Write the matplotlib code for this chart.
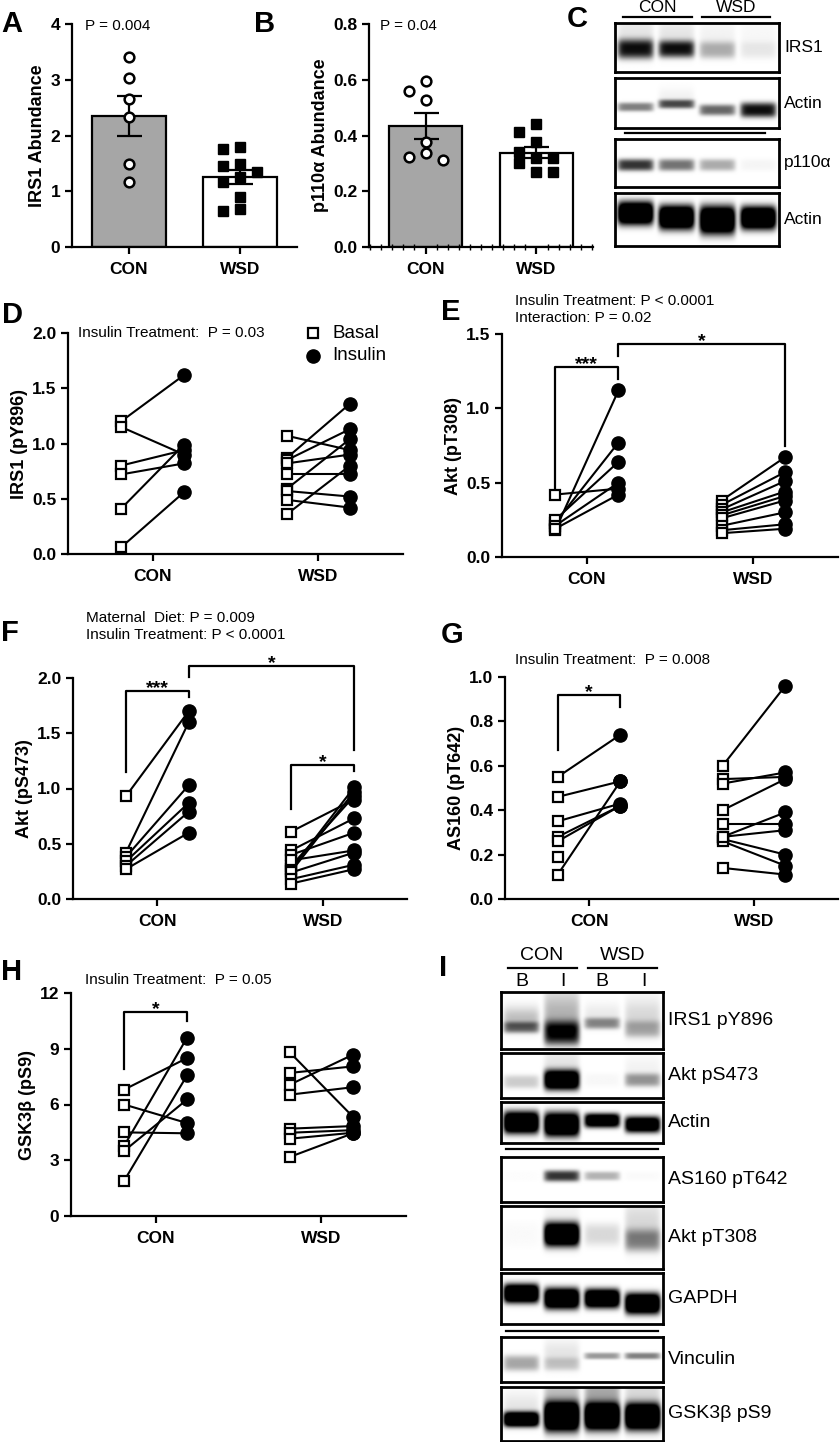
import numpy as np
import matplotlib
matplotlib.use("Agg")
from matplotlib import pyplot as plt
from matplotlib.lines import Line2D
from matplotlib.ticker import MultipleLocator

plt.rcParams['font.family'] = ['Liberation Sans', 'DejaVu Sans']

groups = ['CON', 'WSD']

# A: IRS1 abundance
irs1_con = [3.40, 3.04, 2.65, 2.34, 1.49, 1.17]
irs1_wsd = [1.80, 1.76, 1.49, 1.46, 1.34, 1.26, 1.17, 0.89, 0.68, 0.65]

# B: p110a abundance
p110_con = [0.597, 0.561, 0.527, 0.376, 0.338, 0.322, 0.312]
p110_wsd = [0.440, 0.411, 0.376, 0.342, 0.318, 0.318, 0.300, 0.268, 0.268]

# D: IRS1 (pY896)
d_con_basal = [1.20, 1.15, 0.80, 0.72, 0.41, 0.06]
d_con_insulin = [1.62, 0.90, 0.94, 0.82, 0.99, 0.56]
d_wsd_basal = [1.07, 0.87, 0.85, 0.82, 0.72, 0.59, 0.57, 0.49, 0.36]
d_wsd_insulin = [0.94, 1.36, 1.13, 0.90, 0.72, 1.04, 0.52, 0.42, 0.80]

# E: Akt (pT308)
e_con_basal = [0.42, 0.18, 0.23, 0.25, 0.21, 0.19]
e_con_insulin = [0.46, 1.12, 0.77, 0.64, 0.50, 0.42]
e_wsd_basal = [0.38, 0.35, 0.32, 0.30, 0.28, 0.26, 0.21, 0.18, 0.16]
e_wsd_insulin = [0.67, 0.57, 0.51, 0.44, 0.41, 0.38, 0.30, 0.22, 0.19]

# F: Akt (pS473)
f_con_basal = [0.93, 0.42, 0.38, 0.34, 0.30, 0.27]
f_con_insulin = [1.70, 1.60, 1.03, 0.87, 0.79, 0.60]
f_wsd_basal = [0.61, 0.44, 0.27, 0.25, 0.30, 0.40, 0.35, 0.24, 0.18, 0.14]
f_wsd_insulin = [0.90, 0.73, 1.01, 0.97, 0.93, 0.60, 0.44, 0.42, 0.31, 0.27]

# G: AS160 (pT642)
g_con_basal = [0.55, 0.46, 0.35, 0.28, 0.26, 0.19, 0.11]
g_con_insulin = [0.74, 0.53, 0.43, 0.42, 0.42, np.nan, 0.53]
g_wsd_basal = [0.60, 0.54, 0.52, 0.40, 0.34, 0.28, 0.27, 0.26, 0.14, 0.28]
g_wsd_insulin = [0.96, 0.55, 0.57, 0.54, 0.34, 0.31, 0.20, 0.15, 0.11, 0.39]

# H: GSK3b (pS9)
h_con_basal = [6.8, 6.0, 4.5, 3.77, 3.5, 1.89]
h_con_insulin = [8.5, 5.0, 4.45, 9.6, 6.27, 7.57]
h_wsd_basal = [8.8, 7.7, 7.07, 6.53, 4.70, 4.48, 4.16, 3.18]
h_wsd_insulin = [5.34, 8.05, 8.68, 6.93, 4.84, 4.62, 4.48, 4.45]

# C: blot rows (4 lanes: CON, CON, WSD, WSD)
c_rows = ['IRS1', 'Actin', 'p110α', 'Actin']
c_intensity = [[0.90, 0.90, 0.30, 0.08], [0.50, 0.70, 0.60, 0.95],
               [0.80, 0.55, 0.33, 0.04], [1.6, 1.6, 1.6, 1.6]]
c_center = [[0.53, 0.53, 0.55, 0.55], [0.58, 0.52, 0.64, 0.64],
            [0.54, 0.54, 0.54, 0.54], [0.38, 0.46, 0.51, 0.47]]
c_width = [[0.40, 0.35, 0.35, 0.35], [0.18, 0.18, 0.22, 0.30],
           [0.25, 0.25, 0.25, 0.25], [0.45, 0.47, 0.55, 0.45]]
c_smear = [[0.1, 0.1, 0.05, 0.03], [0, 0.05, 0, 0], [0, 0, 0, 0], [0, 0, 0, 0]]

# I: blot rows (lanes: CON B, CON I, WSD B, WSD I)
i_rows = ['IRS1 pY896', 'Akt pS473', 'Actin', 'AS160 pT642', 'Akt pT308',
          'GAPDH', 'Vinculin', 'GSK3β pS9']
i_intensity = [[0.55, 0.90, 0.45, 0.30], [0.20, 1.5, 0.03, 0.40], [1.6, 1.6, 1.4, 1.4],
               [0.01, 0.80, 0.30, 0.02], [0.02, 1.6, 0.15, 0.45], [1.6, 1.6, 1.6, 1.6],
               [0.35, 0.20, 0.40, 0.50], [1.6, 1.7, 1.7, 1.7]]
i_center = [[0.62, 0.72, 0.55, 0.65], [0.64, 0.60, 0.60, 0.60], [0.50, 0.55, 0.45, 0.55],
            [0.42, 0.42, 0.42, 0.42], [0.46, 0.46, 0.46, 0.55], [0.40, 0.50, 0.50, 0.60],
            [0.58, 0.60, 0.42, 0.42], [0.60, 0.55, 0.55, 0.55]]
i_width = [[0.20, 0.42, 0.20, 0.30], [0.30, 0.45, 0.30, 0.30], [0.55, 0.60, 0.35, 0.40],
           [0.25, 0.25, 0.20, 0.20], [0.40, 0.38, 0.35, 0.35], [0.38, 0.42, 0.38, 0.42],
           [0.35, 0.30, 0.15, 0.15], [0.28, 0.55, 0.50, 0.50]]
i_smear = [[0.25, 0.30, 0.08, 0.15], [0, 0.1, 0, 0.05], [0, 0, 0, 0], [0, 0, 0, 0],
           [0, 0.05, 0, 0.15], [0, 0, 0, 0], [0, 0.1, 0, 0], [0.1, 0.25, 0.35, 0.15]]

W, H = 840, 1442
fig = plt.figure(figsize=(W / 100, H / 100), dpi=100)


def px_axes(l, t, r, b):
    return fig.add_axes([l / W, 1 - b / H, (r - l) / W, (b - t) / H])


def ftext(x, y, s, **kw):
    kw.setdefault('va', 'center')
    kw.setdefault('ha', 'left')
    fig.text(x / W, 1 - y / H, s, **kw)


def fline(x1, x2, y, lw=1.6):
    fig.add_artist(Line2D([x1 / W, x2 / W], [1 - y / H, 1 - y / H],
                          transform=fig.transFigure, color='black', lw=lw))


def style(ax, ylim, yticks, ylabel, fmt):
    ax.spines[['top', 'right']].set_visible(False)
    for s in ['left', 'bottom']:
        ax.spines[s].set_linewidth(1.6)
    ax.set_xlim(-0.51, 1.51)
    ax.set_ylim(*ylim)
    ax.set_xticks([0, 1])
    ax.set_xticklabels(groups, fontweight='bold', fontsize=12.5)
    ax.set_yticks(yticks)
    ax.set_yticklabels([fmt.format(t) for t in yticks], fontweight='bold', fontsize=12.5)
    ax.tick_params(axis='both', width=1.6, length=5)
    ax.tick_params(axis='x', pad=6)
    ax.set_ylabel(ylabel, fontweight='bold', fontsize=13, labelpad=3)


def swarm(vals, ppu_y, ppu_x, size_px=10.5, step_px=17):
    placed = []
    offs = []
    for v in vals:
        for k in [0, -1, 1, -2, 2]:
            x = k * step_px
            if all(abs(x - px) >= size_px or abs(v * ppu_y - py) >= size_px for px, py in placed):
                break
        placed.append((x, v * ppu_y))
        offs.append(x / ppu_x)
    return np.array(offs)


def bar_panel(ax, con, wsd, ppu_y):
    means = [np.mean(con), np.mean(wsd)]
    sems = [np.std(con, ddof=1) / np.sqrt(len(con)), np.std(wsd, ddof=1) / np.sqrt(len(wsd))]
    ax.bar([0, 1], means, width=0.66, color=['#a6a6a6', 'white'], edgecolor='black', lw=1.6, zorder=1)
    ax.errorbar([0, 1], means, yerr=sems, fmt='none', ecolor='black', elinewidth=1.6,
                capsize=9, capthick=1.6, zorder=2)
    ax.plot(swarm(con, ppu_y, 111), con, 'o', mfc='white', mec='black', mew=1.8, ms=7, zorder=3)
    ax.plot(1 + swarm(wsd, ppu_y, 111), wsd, 's', color='black', ms=7.5, zorder=3)


def paired(ax, con_b, con_i, wsd_b, wsd_i, off=0.19):
    for g, (b, i) in enumerate([(con_b, con_i), (wsd_b, wsd_i)]):
        for bv, iv in zip(b, i):
            ax.plot([g - off, g + off], [bv, iv], color='black', lw=1.5, zorder=2)
        ax.plot(np.full(len(b), g - off), b, 's', mfc='white', mec='black', mew=1.6, ms=7,
                zorder=3, clip_on=False)
        ax.plot(np.full(len(i), g + off), i, 'o', color='black', ms=9.5, zorder=3, clip_on=False)


def bracket(ax, x1, y1, x2, y2, ytop, s):
    ax.plot([x1, x1, x2, x2], [y1, ytop, ytop, y2], color='black', lw=1.6, clip_on=False)
    ax.annotate(s, ((x1 + x2) / 2, ytop), xytext=(0, -1.5), textcoords='offset points',
                ha='center', va='baseline', fontsize=14, fontweight='bold', annotation_clip=False)


def blot(ax, intens, centers, widths, smear):
    ny, nx = 120, 400
    x = np.linspace(0, 4, nx)[None, :]
    y = np.linspace(0, 1, ny)[:, None]
    dark = np.zeros((ny, nx))
    for j in range(4):
        hx = np.exp(-((x - (j + 0.5)) / 0.44) ** 8)
        band = intens[j] * np.exp(-np.abs((y - centers[j]) / (widths[j] / 2)) ** 3)
        band = band + smear[j] * np.exp(-((y - (centers[j] - widths[j] * 0.8)) / widths[j]) ** 2)
        dark += band * hx
    img = 1 - np.clip(dark, 0, 1)
    ax.imshow(img, cmap='gray', vmin=0, vmax=1, extent=(0, 4, 1, 0), aspect='auto',
              interpolation='bilinear')
    ax.set_xlim(0, 4)
    ax.set_ylim(1, 0)
    ax.set_xticks([])
    ax.set_yticks([])
    for s in ax.spines.values():
        s.set_linewidth(2)


# ---- A ----
ax = px_axes(72, 24, 297, 247)
bar_panel(ax, irs1_con, irs1_wsd, 223 / 4)
style(ax, (0, 4), [0, 1, 2, 3, 4], 'IRS1 Abundance', '{:g}')
ftext(85, 26, 'P = 0.004', fontsize=11)

# ---- B ----
ax = px_axes(369, 24, 593, 247)
bar_panel(ax, p110_con, p110_wsd, 223 / 0.8)
style(ax, (0, 0.8), [0, 0.2, 0.4, 0.6, 0.8], 'p110α Abundance', '{:.1f}')
ax.xaxis.set_minor_locator(MultipleLocator(0.1))
ax.tick_params(axis='x', which='minor', length=4, width=1, direction='inout')
ftext(380, 26, 'P = 0.04', fontsize=11)

# ---- C ----
c_boxes = [(23, 72), (78, 128), (139, 187), (193, 246)]
for k, (t, b) in enumerate(c_boxes):
    ax = px_axes(615, t, 779, b)
    blot(ax, c_intensity[k], c_center[k], c_width[k], c_smear[k])
    ftext(784, (t + b) / 2, c_rows[k], fontsize=12.5)
fline(625, 765, 133)
fline(623, 692, 17)
fline(702, 770, 17)
ftext(657, 8, 'CON', fontsize=12.5, ha='center')
ftext(736, 8, 'WSD', fontsize=12.5, ha='center')

# ---- D ----
ax = px_axes(68, 333, 403, 554)
paired(ax, d_con_basal, d_con_insulin, d_wsd_basal, d_wsd_insulin)
style(ax, (0, 2.0), [0, 0.5, 1.0, 1.5, 2.0], 'IRS1 (pY896)', '{:.1f}')
ftext(78, 333, 'Insulin Treatment:  P = 0.03', fontsize=11)
fig.add_artist(Line2D([313 / W], [1 - 333 / H], transform=fig.transFigure, marker='s',
                      mfc='white', mec='black', mew=1.6, ms=7, ls='none'))
fig.add_artist(Line2D([313 / W], [1 - 356 / H], transform=fig.transFigure, marker='o',
                      color='black', ms=9.5, ls='none'))
ftext(332, 333, 'Basal', fontsize=13.5)
ftext(332, 356, 'Insulin', fontsize=13.5)

# ---- E ----
ax = px_axes(502, 334, 838, 557)
paired(ax, e_con_basal, e_con_insulin, e_wsd_basal, e_wsd_insulin)
style(ax, (0, 1.5), [0, 0.5, 1.0, 1.5], 'Akt (pT308)', '{:.1f}')
bracket(ax, -0.19, 0.45, 0.19, 1.20, 1.28, '***')
bracket(ax, 0.19, 1.35, 1.19, 0.75, 1.43, '*')
ftext(515, 301, 'Insulin Treatment: P < 0.0001', fontsize=11)
ftext(515, 318, 'Interaction: P = 0.02', fontsize=11)

# ---- F ----
ax = px_axes(73, 678, 407, 899)
paired(ax, f_con_basal, f_con_insulin, f_wsd_basal, f_wsd_insulin)
style(ax, (0, 2.0), [0, 0.5, 1.0, 1.5, 2.0], 'Akt (pS473)', '{:.1f}')
bracket(ax, -0.19, 1.15, 0.19, 1.83, 1.88, '***')
bracket(ax, 0.19, 2.01, 1.19, 1.35, 2.11, '*')
bracket(ax, 0.81, 0.81, 1.19, 1.16, 1.21, '*')
ftext(86, 618, 'Maternal  Diet: P = 0.009', fontsize=11)
ftext(86, 635, 'Insulin Treatment: P < 0.0001', fontsize=11)

# ---- G ----
ax = px_axes(505, 677, 838, 899)
paired(ax, g_con_basal, g_con_insulin, g_wsd_basal, g_wsd_insulin)
style(ax, (0, 1.0), [0, 0.2, 0.4, 0.6, 0.8, 1.0], 'AS160 (pT642)', '{:.1f}')
bracket(ax, -0.19, 0.67, 0.19, 0.865, 0.92, '*')
ftext(515, 660, 'Insulin Treatment:  P = 0.008', fontsize=11)

# ---- H ----
ax = px_axes(71, 993, 406, 1216)
paired(ax, h_con_basal, h_con_insulin, h_wsd_basal, h_wsd_insulin)
style(ax, (0, 12), [0, 3, 6, 9, 12], 'GSK3β (pS9)', '{:g}')
bracket(ax, -0.19, 7.9, 0.19, 10.5, 11.0, '*')
ftext(85, 980, 'Insulin Treatment:  P = 0.05', fontsize=11)

# ---- I ----
i_boxes = [(992, 1049), (1053, 1098), (1102, 1143), (1157, 1202), (1206, 1269),
           (1273, 1324), (1337, 1382), (1387, 1441)]
for k, (t, b) in enumerate(i_boxes):
    ax = px_axes(501, t, 663, b)
    blot(ax, i_intensity[k], i_center[k], i_width[k], i_smear[k])
    ftext(668, (t + b) / 2, i_rows[k], fontsize=14)
fline(506, 658, 1149)
fline(506, 658, 1331)
fline(508, 577, 968)
fline(588, 657, 968)
ftext(542, 956, 'CON', fontsize=14, ha='center')
ftext(623, 956, 'WSD', fontsize=14, ha='center')
for xx, s in zip([522, 563, 602, 644], ['B', 'I', 'B', 'I']):
    ftext(xx, 981, s, fontsize=14, ha='center')

# panel letters
for xx, yy, s in [(12, 24, 'A'), (265, 24, 'B'), (577, 19, 'C'), (12, 315, 'D'),
                  (451, 312, 'E'), (10, 633, 'F'), (452, 635, 'G'), (12, 972, 'H'),
                  (443, 968, 'I')]:
    ftext(xx, yy, s, fontsize=21, fontweight='bold', ha='center')

fig.savefig('out.png', dpi=100)
